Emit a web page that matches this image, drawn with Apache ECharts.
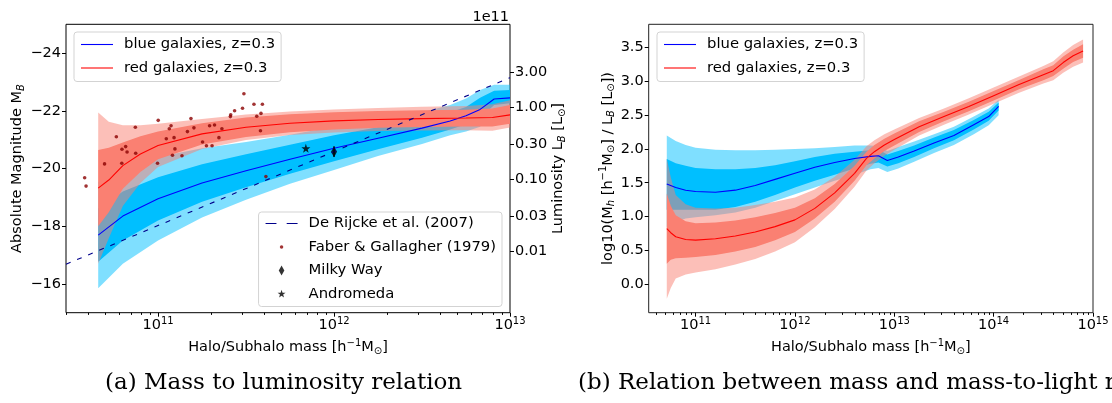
<!DOCTYPE html>
<html>
<head>
<meta charset="utf-8">
<script src="https://cdn.jsdelivr.net/npm/echarts/dist/echarts.min.js"></script>
</head>
<body style="margin: 0; background: #fff">
<div id="main" style="width: 1112px; height: 403px"></div>
<script type="text/javascript">
// ---- panel (a): log10 halo mass vs absolute B magnitude ----
var blueMassA = [10.66, 10.8, 11.0, 11.25, 11.5, 11.75, 12.0, 12.25, 12.5, 12.66, 12.75, 12.83, 12.91, 13.0];
var blueMagA  = [-17.69, -18.35, -18.95, -19.5, -19.92, -20.32, -20.7, -21.05, -21.4, -21.65, -21.83, -22.05, -22.41, -22.45];
var blueMagA1Hi = [-18.61, -19.2, -19.7, -20.15, -20.49, -20.82, -21.15, -21.43, -21.73, -21.95, -22.13, -22.45, -22.7, -22.72];
var blueMagA1Lo = [-16.77, -17.5, -18.2, -18.85, -19.35, -19.82, -20.25, -20.67, -21.07, -21.35, -21.53, -21.75, -22.2, -22.26];
var blueMagA2Hi = [-19.53, -20.0, -20.4, -20.7, -20.92, -21.17, -21.45, -21.67, -21.95, -22.2, -22.43, -22.72, -22.9, -22.9];
var blueMagA2Lo = [-15.85, -16.7, -17.5, -18.3, -18.92, -19.47, -19.95, -20.43, -20.85, -21.15, -21.28, -21.45, -21.95, -22.03];

var redMassA = [10.66, 10.72, 10.8, 10.9, 11.0, 11.25, 11.5, 11.75, 12.0, 12.25, 12.5, 12.75, 12.9, 13.0];
var redMagA  = [-19.32, -19.6, -20.1, -20.5, -20.8, -21.2, -21.43, -21.57, -21.65, -21.7, -21.73, -21.75, -21.77, -21.86];
var redMagA1Hi = [-20.64, -20.72, -20.9, -21.12, -21.28, -21.57, -21.77, -21.88, -21.95, -21.99, -22.02, -22.04, -22.08, -22.2];
var redMagA1Lo = [-18.0, -18.48, -19.3, -19.88, -20.32, -20.83, -21.09, -21.26, -21.35, -21.41, -21.44, -21.46, -21.46, -21.55];
var redMagA2Hi = [-21.94, -21.62, -21.5, -21.5, -21.55, -21.72, -21.87, -21.98, -22.05, -22.1, -22.14, -22.17, -22.23, -22.37];
var redMagA2Lo = [-16.7, -17.58, -18.7, -19.5, -20.05, -20.68, -20.99, -21.16, -21.25, -21.3, -21.32, -21.33, -21.31, -21.42];

var faberMass = [10.583, 10.591, 10.696, 10.763, 10.795, 10.794, 10.816, 10.824, 10.871, 10.873,
                 10.997, 11.001, 11.047, 11.064, 11.074, 11.082, 11.091, 11.096, 11.136, 11.167,
                 11.187, 11.204, 11.253, 11.275, 11.293, 11.307, 11.321, 11.346, 11.363, 11.411,
                 11.413, 11.435, 11.48, 11.488, 11.545, 11.561, 11.582, 11.585, 11.593, 11.613];
var faberMag = [-19.68, -19.39, -20.16, -21.1, -20.67, -20.18, -20.76, -20.57, -21.43, -20.53,
                -20.18, -21.67, -21.03, -21.38, -21.48, -20.46, -21.07, -20.68, -20.44, -21.28,
                -21.73, -21.41, -20.92, -20.79, -21.48, -20.79, -21.51, -21.07, -21.38, -21.8,
                -21.86, -22.0, -22.09, -22.59, -22.23, -21.81, -21.31, -21.91, -22.23, -19.72];

var rijckeMass = [10.477, 13.0];
var rijckeMag = [-16.68, -23.15];
var milkyWay = [12.0, -20.58];
var milkyWayErr = [-20.77, -20.4];
var andromeda = [11.84, -20.7];

var magTicks = [-24, -22, -20, -18, -16];
var lumTicks = [0.01, 0.03, 0.1, 0.3, 1, 3];
var lumZeroMag = -22.14;            // magnitude of 1e11 L_sun on this axis
var massTicksA = [11, 12, 13];

// ---- panel (b): log10 halo mass vs log10(M/L) ----
var blueMassB = [10.71, 10.8, 10.9, 11.0, 11.2, 11.4, 11.6, 11.8, 12.0, 12.2, 12.4, 12.6, 12.76, 12.84, 12.93, 13.04, 13.2, 13.4, 13.6, 13.8, 13.95, 14.05];
var blueMlB   = [1.48, 1.43, 1.39, 1.37, 1.36, 1.39, 1.46, 1.55, 1.64, 1.73, 1.80, 1.86, 1.89, 1.90, 1.83, 1.88, 1.97, 2.09, 2.20, 2.36, 2.48, 2.63];
var blueMlB2Hi = [2.20, 2.12, 2.06, 2.02, 1.99, 1.98, 1.98, 1.99, 2.00, 2.01, 2.03, 2.05, 2.05, 2.04, 1.97, 2.03, 2.11, 2.22, 2.33, 2.48, 2.60, 2.73];
var blueMlB1Hi = [1.85, 1.79, 1.75, 1.72, 1.70, 1.70, 1.72, 1.76, 1.82, 1.88, 1.93, 1.96, 1.98, 1.99, 1.92, 1.97, 2.05, 2.17, 2.28, 2.43, 2.55, 2.69];
var blueMlB1Lo = [1.10, 1.10, 1.10, 1.10, 1.10, 1.14, 1.22, 1.32, 1.43, 1.53, 1.62, 1.71, 1.78, 1.80, 1.74, 1.79, 1.88, 2.01, 2.13, 2.29, 2.42, 2.57];
var blueMlB2Lo = [0.85, 0.92, 0.97, 0.99, 1.02, 1.06, 1.13, 1.23, 1.33, 1.43, 1.53, 1.62, 1.70, 1.72, 1.66, 1.71, 1.81, 1.94, 2.06, 2.22, 2.35, 2.50];

var redMassB = [10.71, 10.75, 10.8, 10.9, 11.0, 11.2, 11.4, 11.6, 11.8, 12.0, 12.2, 12.4, 12.6, 12.72, 12.8, 12.9, 13.0, 13.25, 13.5, 13.75, 14.0, 14.25, 14.5, 14.6, 14.7, 14.8, 14.9];
var redMlB   = [0.82, 0.76, 0.70, 0.66, 0.65, 0.67, 0.71, 0.77, 0.85, 0.95, 1.12, 1.35, 1.64, 1.86, 1.96, 2.06, 2.14, 2.33, 2.48, 2.63, 2.79, 2.95, 3.10, 3.16, 3.28, 3.38, 3.45];
var redMlB1Hi = [1.34, 1.16, 1.02, 0.93, 0.90, 0.91, 0.94, 0.99, 1.05, 1.13, 1.27, 1.48, 1.75, 1.96, 2.06, 2.15, 2.23, 2.41, 2.55, 2.70, 2.86, 3.02, 3.18, 3.24, 3.37, 3.47, 3.55];
var redMlB1Lo = [0.30, 0.36, 0.38, 0.39, 0.40, 0.43, 0.48, 0.55, 0.65, 0.77, 0.97, 1.22, 1.53, 1.76, 1.86, 1.97, 2.05, 2.25, 2.41, 2.56, 2.72, 2.88, 3.02, 3.08, 3.19, 3.29, 3.35];
var redMlB2Hi = [1.86, 1.58, 1.32, 1.18, 1.13, 1.12, 1.13, 1.17, 1.22, 1.28, 1.40, 1.59, 1.84, 2.04, 2.13, 2.22, 2.29, 2.46, 2.60, 2.75, 2.91, 3.07, 3.23, 3.30, 3.43, 3.54, 3.62];
var redMlB2Lo = [-0.22, -0.06, 0.08, 0.14, 0.17, 0.22, 0.29, 0.37, 0.48, 0.62, 0.84, 1.11, 1.44, 1.68, 1.79, 1.90, 1.99, 2.20, 2.36, 2.51, 2.67, 2.83, 2.97, 3.02, 3.13, 3.22, 3.28];

var mlTicks = [0, 0.5, 1, 1.5, 2, 2.5, 3, 3.5];
var massTicksB = [11, 12, 13, 14, 15];

var FONT = 'DejaVu Sans';
var nameBlue = 'blue galaxies, z=0.3', nameRed = 'red galaxies, z=0.3';

var rich = {
    b: {fontSize: 14.5, lineHeight: 18, color: '#000'},
    sup: {fontSize: 10, lineHeight: 8, verticalAlign: 'top', color: '#000'},
    sub: {fontSize: 10, lineHeight: 8, verticalAlign: 'bottom', color: '#000'},
    isub: {fontSize: 10, lineHeight: 8, verticalAlign: 'bottom', fontStyle: 'italic', color: '#000'}
};
var massName = '{b|Halo/Subhalo mass [h}{sup|−1}{b|M}{sub|⊙}{b|]}';

// legend handles (box 0..100 keeps them small inside the legend slot)
var iconLine = 'path://M0,0L100,0L100,3.4L0,3.4Z';
var iconDash = 'path://M0,0L34,0L34,3.4L0,3.4ZM66,0L100,0L100,3.4L66,3.4Z';
var iconDot = 'path://M0,0M100,100M37.5,50A12.5,12.5,0,1,1,62.5,50A12.5,12.5,0,1,1,37.5,50Z';
var iconDiamond = 'path://M0,0M100,100M50,14L70,50L50,86L30,50Z';
var iconStar = 'path://M0,0M100,100M50,20L57.05,40.29L78.53,40.73L61.41,53.71L67.63,74.27L50,62L32.37,74.27L38.59,53.71L21.47,40.73L42.95,40.29Z';
var starPath = 'path://M50,20L57.05,40.29L78.53,40.73L61.41,53.71L67.63,74.27L50,62L32.37,74.27L38.59,53.71L21.47,40.73L42.95,40.29Z';

function zip(xs, ys) {
    return xs.map(function (x, i) { return [x, ys[i]]; });
}
function minorTicks(lo, hi) {
    var out = [];
    for (var e = 10; e < 15; e++) {
        for (var k = 2; k < 10; k++) {
            var v = e + Math.log10(k);
            if (v > lo && v < hi) out.push(v);
        }
    }
    return out;
}
function band(xs, lo, hi, color, xi, yi) {
    return {
        type: 'custom', xAxisIndex: xi, yAxisIndex: yi, silent: true,
        data: xs.map(function (x, i) { return [x, lo[i], hi[i]]; }),
        encode: {x: 0, y: [1, 2]},
        renderItem: function (params, api) {
            if (params.dataIndex !== 0) return null;
            var pts = [];
            for (var i = 0; i < xs.length; i++) pts.push(api.coord([xs[i], hi[i]]));
            for (var j = xs.length - 1; j >= 0; j--) pts.push(api.coord([xs[j], lo[j]]));
            return {type: 'polygon', shape: {points: pts}, style: {fill: color}};
        }
    };
}
function massAxis(grid, min, max, majors) {
    return {
        gridIndex: grid, type: 'value', min: min, max: max,
        axisLine: {show: false, onZero: false}, splitLine: {show: false},
        axisTick: {customValues: majors, length: 4, lineStyle: {color: '#000'}},
        axisLabel: {
            customValues: majors, margin: 4,
            formatter: function (v) { return '{b|10}{sup|' + v + '}'; },
            rich: rich
        },
        name: massName, nameLocation: 'middle', nameGap: 21,
        nameTextStyle: {rich: rich}
    };
}
function minorAxis(grid, min, max) {
    return {
        gridIndex: grid, type: 'value', min: min, max: max, position: 'bottom',
        axisLine: {show: false, onZero: false}, splitLine: {show: false}, axisLabel: {show: false},
        axisTick: {customValues: minorTicks(min, max), length: 2.2, lineStyle: {color: '#000'}}
    };
}
function legend(extra) {
    return Object.assign({
        orient: 'vertical', align: 'left', selectedMode: false,
        itemWidth: 32, itemHeight: 14, itemGap: 8.5,
        padding: [5, 6, 6, 7],
        borderColor: '#d3d3d3', borderWidth: 1, borderRadius: 3,
        backgroundColor: 'rgba(255,255,255,0.8)',
        textStyle: {fontSize: 14.8, color: '#000', fontFamily: FONT, padding: [0, 0, 0, 6]}
    }, extra);
}

var chart = echarts.init(document.getElementById('main'));
chart.setOption({
    animation: false,
    textStyle: {fontFamily: FONT},
    grid: [
        {left: 66, right: 602, top: 24.3, bottom: 90.3, show: true, borderColor: '#000', borderWidth: 1},
        {left: 648.7, right: 19, top: 24.3, bottom: 90.3, show: true, borderColor: '#222', borderWidth: 1}
    ],
    xAxis: [
        massAxis(0, 10.477, 13, massTicksA),
        minorAxis(0, 10.477, 13),
        massAxis(1, 10.528, 15, massTicksB),
        minorAxis(1, 10.528, 15)
    ],
    yAxis: [
        {
            gridIndex: 0, type: 'value', min: -25, max: -15, inverse: true,
            axisLine: {show: false, onZero: false}, splitLine: {show: false},
            axisTick: {customValues: magTicks, length: 4, lineStyle: {color: '#000'}},
            axisLabel: {
                customValues: magTicks, margin: 5, fontSize: 14.5, color: '#000',
                formatter: function (v) { return String(v).replace('-', '−'); }
            },
            name: '{b|Absolute Magnitude M}{isub|B}', nameLocation: 'middle', nameGap: 38, nameRotate: 90,
            nameTextStyle: {rich: rich}
        },
        {
            gridIndex: 0, type: 'value', min: -25, max: -15, inverse: true, position: 'right',
            axisLine: {show: false, onZero: false}, splitLine: {show: false},
            axisTick: {
                customValues: lumTicks.map(function (l) { return lumZeroMag - 2.5 * Math.log10(l); }),
                length: 4, lineStyle: {color: '#000'}
            },
            axisLabel: {
                customValues: lumTicks.map(function (l) { return lumZeroMag - 2.5 * Math.log10(l); }),
                margin: 5, fontSize: 14.5, color: '#000',
                formatter: function (v) {
                    return Math.pow(10, (lumZeroMag - v) / 2.5).toFixed(2);
                }
            },
            name: '{b|Luminosity L}{isub|B}{b| [L}{sub|⊙}{b|]}', nameLocation: 'middle', nameGap: 38, nameRotate: 90,
            nameTextStyle: {rich: rich}
        },
        {
            gridIndex: 1, type: 'value', min: -0.425, max: 3.847,
            axisLine: {show: false, onZero: false}, splitLine: {show: false},
            axisTick: {customValues: mlTicks, length: 4, lineStyle: {color: '#000'}},
            axisLabel: {
                customValues: mlTicks, margin: 5, fontSize: 14.5, color: '#000',
                formatter: function (v) { return v.toFixed(1); }
            },
            name: '{b|log10(M}{isub|h}{b| [h}{sup|−1}{b|M}{sub|⊙}{b|] / L}{isub|B}{b| [L}{sub|⊙}{b|])}',
            nameLocation: 'middle', nameGap: 31, nameRotate: 90,
            nameTextStyle: {rich: rich}
        }
    ],
    legend: [
        legend({left: 74, top: 32, data: [
            {name: nameBlue, icon: iconLine},
            {name: nameRed, icon: iconLine}
        ]}),
        legend({right: 610, top: 212, padding: [4, 6, 5, 7], data: [
            {name: 'De Rijcke et al. (2007)', icon: iconDash},
            {name: 'Faber & Gallagher (1979)', icon: iconDot},
            {name: 'Milky Way', icon: iconDiamond},
            {name: 'Andromeda', icon: iconStar}
        ]}),
        legend({left: 657, top: 32, data: [
            {name: nameBlue, icon: iconLine},
            {name: nameRed, icon: iconLine}
        ]})
    ],
    graphic: [
        {type: 'text', right: 603, top: 10, style: {text: '1e11', font: '14.5px "DejaVu Sans"', fill: '#000'}},
        {type: 'text', left: 105, top: 372, style: {text: '(a) Mass to luminosity relation', font: '23px "DejaVu Serif"', fill: '#000'}},
        {type: 'text', left: 578, top: 372, style: {text: '(b) Relation between mass and mass-to-light ratio', font: '23px "DejaVu Serif"', fill: '#000'}}
    ],
    series: [
        // panel (a) bands
        band(blueMassA, blueMagA2Lo, blueMagA2Hi, 'rgba(0,191,255,0.5)', 0, 0),
        band(blueMassA, blueMagA1Lo, blueMagA1Hi, '#00bfff', 0, 0),
        band(redMassA, redMagA2Lo, redMagA2Hi, 'rgba(250,128,114,0.5)', 0, 0),
        band(redMassA, redMagA1Lo, redMagA1Hi, '#fa8072', 0, 0),
        {
            name: nameBlue, type: 'line', xAxisIndex: 0, yAxisIndex: 0, data: zip(blueMassA, blueMagA),
            symbol: 'none', color: '#0000ff', lineStyle: {width: 1.1, color: '#0000ff'}
        },
        {
            name: nameRed, type: 'line', xAxisIndex: 0, yAxisIndex: 0, data: zip(redMassA, redMagA),
            symbol: 'none', color: '#ff0000', lineStyle: {width: 1.1, color: '#ff0000'}
        },
        {
            name: 'De Rijcke et al. (2007)', type: 'line', xAxisIndex: 0, yAxisIndex: 0,
            data: zip(rijckeMass, rijckeMag), symbol: 'none', color: '#00008b',
            lineStyle: {width: 1.1, color: '#00008b', type: [5, 7]}
        },
        {
            name: 'Faber & Gallagher (1979)', type: 'scatter', xAxisIndex: 0, yAxisIndex: 0,
            data: zip(faberMass, faberMag), symbol: 'circle', symbolSize: 3.6, itemStyle: {color: '#8b0000'}
        },
        {
            type: 'line', xAxisIndex: 0, yAxisIndex: 0, symbol: 'none', silent: true,
            data: [[milkyWay[0], milkyWayErr[0]], [milkyWay[0], milkyWayErr[1]]],
            lineStyle: {width: 1.2, color: '#000'}
        },
        {
            name: 'Milky Way', type: 'scatter', xAxisIndex: 0, yAxisIndex: 0,
            data: [milkyWay], symbol: 'diamond', symbolSize: [6, 11], itemStyle: {color: '#000'}
        },
        {
            name: 'Andromeda', type: 'scatter', xAxisIndex: 0, yAxisIndex: 0,
            data: [andromeda], symbol: starPath, symbolSize: 9, itemStyle: {color: '#000'}
        },
        // panel (b) bands
        band(blueMassB, blueMlB2Lo, blueMlB2Hi, 'rgba(0,191,255,0.5)', 2, 2),
        band(blueMassB, blueMlB1Lo, blueMlB1Hi, '#00bfff', 2, 2),
        band(redMassB, redMlB2Lo, redMlB2Hi, 'rgba(250,128,114,0.5)', 2, 2),
        band(redMassB, redMlB1Lo, redMlB1Hi, '#fa8072', 2, 2),
        {
            name: nameBlue, type: 'line', xAxisIndex: 2, yAxisIndex: 2, data: zip(blueMassB, blueMlB),
            symbol: 'none', color: '#0000ff', lineStyle: {width: 1.1, color: '#0000ff'}
        },
        {
            name: nameRed, type: 'line', xAxisIndex: 2, yAxisIndex: 2, data: zip(redMassB, redMlB),
            symbol: 'none', color: '#ff0000', lineStyle: {width: 1.1, color: '#ff0000'}
        }
    ]
});
</script>
</body>
</html>
